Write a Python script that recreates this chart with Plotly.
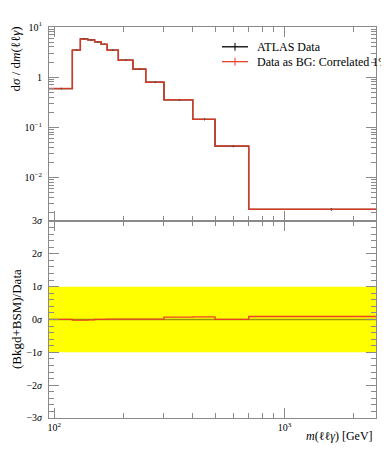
import numpy as np
import plotly.graph_objects as go
from plotly.subplots import make_subplots

# ---------------- data ----------------
bin_edges = [95, 120, 130, 140, 150, 160, 170, 190, 220, 250, 300, 400, 500, 700, 2500]
atlas_xsec = [0.59, 3.44, 5.78, 5.53, 5.05, 4.52, 3.44, 2.18, 1.45, 0.79, 0.352, 0.144, 0.042, 0.0023]
atlas_err = [0.02, 0.12, 0.18, 0.17, 0.16, 0.14, 0.11, 0.07, 0.05, 0.03, 0.012, 0.006, 0.002, 0.00012]
bg_xsec = [0.59, 3.44, 5.78, 5.53, 5.05, 4.52, 3.44, 2.18, 1.45, 0.79, 0.352, 0.144, 0.042, 0.0023]
bg_err = [0.02, 0.12, 0.18, 0.17, 0.16, 0.14, 0.11, 0.07, 0.05, 0.03, 0.012, 0.006, 0.002, 0.00012]
ratio_sigma = [0.0, -0.02, -0.02, -0.01, 0.0, 0.0, 0.01, 0.01, 0.01, 0.01, 0.07, 0.08, 0.0, 0.09]
data_ratio = [0.0] * 14
band_lo = [-1.0, -1.0]
band_hi = [1.0, 1.0]

main_yticks = [0.01, 0.1, 1, 10]
main_yticktext = ["10<sup>−2</sup>", "10<sup>−1</sup>", "1", "10<sup>1</sup>"]
ratio_yticks = [-3, -2, -1, 0, 1, 2, 3]
ratio_yticktext = ["−3<i>σ</i>", "−2<i>σ</i>", "−1<i>σ</i>", "0<i>σ</i>", "1<i>σ</i>", "2<i>σ</i>", "3<i>σ</i>"]
xticks = [100, 1000]
xticktext = ["10<sup>2</sup>", "10<sup>3</sup>"]

RED = "#ea4128"
GRAY = "#8a8a8a"
FONT = "Liberation Serif"

centers = [(a + b) / 2 for a, b in zip(bin_edges[:-1], bin_edges[1:])]


def step(vals):
    return list(vals) + [vals[-1]]


fig = make_subplots(rows=2, cols=1, shared_xaxes=True, vertical_spacing=0,
                    row_heights=[0.496, 0.504])

# main panel: ATLAS data (black) then BG (red on top)
fig.add_trace(go.Scatter(x=bin_edges, y=step(atlas_xsec), mode="lines", line_shape="hv",
                         line=dict(color="black", width=1.3), showlegend=False), row=1, col=1)
fig.add_trace(go.Scatter(x=centers, y=atlas_xsec, mode="markers", marker=dict(size=1, color="black"),
                         error_y=dict(type="data", array=atlas_err, width=0, thickness=1, color="black"),
                         showlegend=False), row=1, col=1)
fig.add_trace(go.Scatter(x=bin_edges, y=step(bg_xsec), mode="lines", line_shape="hv",
                         line=dict(color=RED, width=1.5), opacity=0.9, showlegend=False), row=1, col=1)
fig.add_trace(go.Scatter(x=centers, y=bg_xsec, mode="markers", marker=dict(size=1, color="#555555"),
                         error_y=dict(type="data", array=bg_err, width=0, thickness=1, color="#555555"),
                         showlegend=False), row=1, col=1)

# ratio panel
xr = [bin_edges[0], bin_edges[-1]]
fig.add_trace(go.Scatter(x=xr, y=band_lo, mode="lines", line=dict(width=0), showlegend=False,
                         hoverinfo="skip"), row=2, col=1)
fig.add_trace(go.Scatter(x=xr, y=band_hi, mode="lines", line=dict(width=0), fill="tonexty",
                         fillcolor="#ffff00", showlegend=False, hoverinfo="skip"), row=2, col=1)
fig.add_trace(go.Scatter(x=bin_edges, y=step(data_ratio), mode="lines", line_shape="hv",
                         line=dict(color="rgba(0,0,0,0.4)", width=1.5), showlegend=False), row=2, col=1)
fig.add_trace(go.Scatter(x=bin_edges, y=step(ratio_sigma), mode="lines", line_shape="hv",
                         line=dict(color=RED, width=1.3), showlegend=False), row=2, col=1)

xminor = [200, 300, 400, 500, 600, 700, 800, 900, 2000]
xcommon = dict(type="log", range=[np.log10(bin_edges[0]), np.log10(bin_edges[-1])],
               showgrid=False, zeroline=False, showline=True, linecolor=GRAY, linewidth=1,
               mirror="ticks", ticks="inside", ticklen=10, tickcolor=GRAY, tickwidth=1,
               tickvals=xticks, ticktext=xticktext,
               minor=dict(ticks="inside", ticklen=5, tickcolor=GRAY, tickvals=xminor, showgrid=False),
               tickfont=dict(family=FONT, size=10, color="black"))
fig.update_xaxes(**xcommon, showticklabels=False, row=1, col=1)
fig.update_xaxes(**xcommon, showticklabels=True, row=2, col=1)

yminor = [m * 10.0 ** k for k in range(-3, 1) for m in range(2, 10)]
fig.update_yaxes(type="log", range=[-2.87, 1.0], showgrid=False, zeroline=False, showline=True,
                 linecolor=GRAY, mirror="ticks", ticks="inside", ticklen=10, tickcolor=GRAY,
                 tickvals=main_yticks, ticktext=main_yticktext, ticklabelstandoff=4,
                 minor=dict(ticks="inside", ticklen=5, tickcolor=GRAY, tickvals=yminor, showgrid=False),
                 tickfont=dict(family=FONT, size=10, color="black"), row=1, col=1)
fig.update_yaxes(range=[-3, 3], showgrid=False, zeroline=False, showline=True,
                 linecolor=GRAY, mirror="ticks", ticks="inside", ticklen=10, tickcolor=GRAY,
                 tickvals=ratio_yticks, ticktext=ratio_yticktext, ticklabelstandoff=4,
                 minor=dict(ticks="inside", ticklen=5, tickcolor=GRAY, dtick=0.2, showgrid=False),
                 tickfont=dict(family=FONT, size=10, color="black"), row=2, col=1)


# screen-pixel helpers (page body has an 8px margin; plot area spans x 49..376, y 23..418)
def px_x(px):
    return (px - 49) / 327.0


def px_y(py):
    return (418 - py) / 395.0


ann = []
ann.append(dict(text="d<i>σ</i> / d<i>m</i>(ℓℓ<i>γ</i>)", textangle=-90, xref="paper", yref="paper",
                x=px_x(16), y=px_y(21), xanchor="center", yanchor="top", showarrow=False,
                font=dict(family=FONT, size=13, color="black")))
ann.append(dict(text="(Bkgd+BSM)/Data", textangle=-90, xref="paper", yref="paper",
                x=px_x(16), y=px_y(318), xanchor="center", yanchor="middle", showarrow=False,
                font=dict(family=FONT, size=13, color="black")))
ann.append(dict(text="<i>m</i>(ℓℓ<i>γ</i>) [GeV]", xref="paper", yref="paper",
                x=px_x(375), y=px_y(436), xanchor="right", yanchor="middle", showarrow=False,
                font=dict(family=FONT, size=12, color="black")))
ann.append(dict(text="ATLAS Data", xref="paper", yref="paper", x=px_x(255), y=px_y(43),
                xanchor="left", yanchor="middle", showarrow=False,
                font=dict(family=FONT, size=12, color="black")))
ann.append(dict(text="Data as BG: Correlated 1%", xref="paper", yref="paper", x=px_x(255), y=px_y(58),
                xanchor="left", yanchor="middle", showarrow=False,
                font=dict(family=FONT, size=12, color="black")))

shapes = []
for yy, col in [(43, "black"), (58, RED)]:
    shapes.append(dict(type="line", xref="paper", yref="paper", x0=px_x(222), x1=px_x(248),
                       y0=px_y(yy), y1=px_y(yy), line=dict(color=col, width=1.3)))
    shapes.append(dict(type="line", xref="paper", yref="paper", x0=px_x(235), x1=px_x(235),
                       y0=px_y(yy - 4), y1=px_y(yy + 4), line=dict(color=col, width=1)))

fig.update_layout(width=381, height=442, margin=dict(l=41, r=13, t=15, b=32),
                  plot_bgcolor="white", paper_bgcolor="white", showlegend=False,
                  annotations=ann, shapes=shapes, font=dict(family=FONT))

fig.write_html("out.html")
